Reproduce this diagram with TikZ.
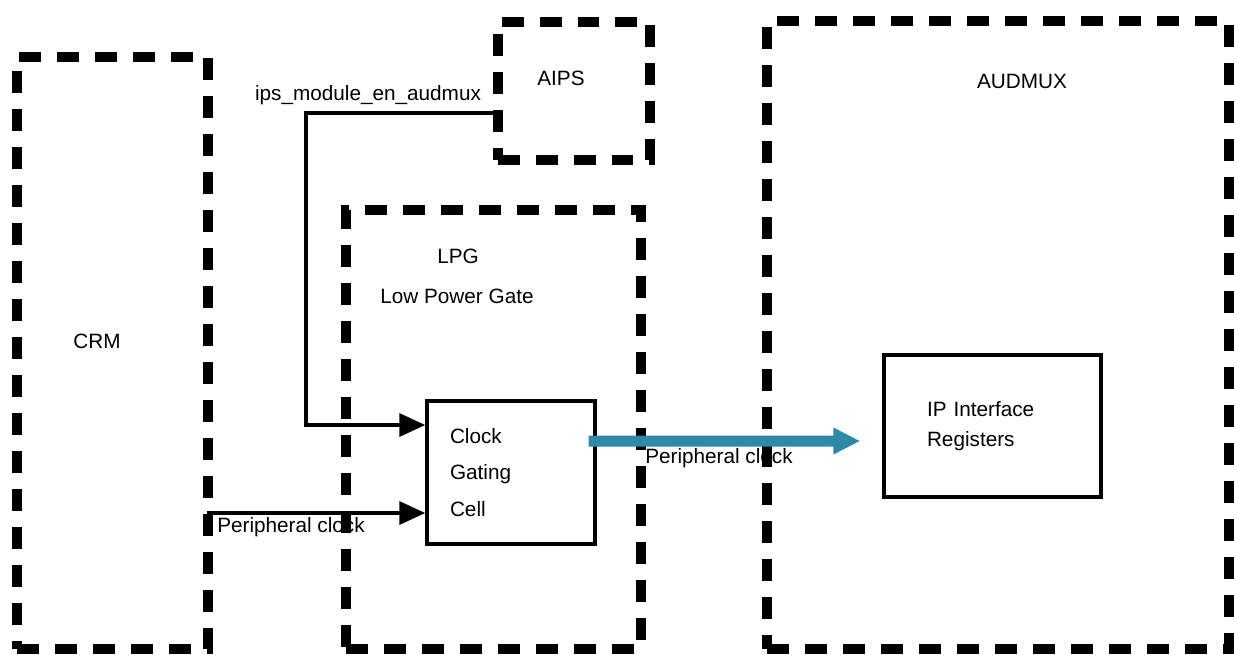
\documentclass[tikz,border=0pt]{standalone}
\usepackage{fontspec}
\setmainfont{Liberation Sans}
\usepackage{xcolor}
\usetikzlibrary{positioning, arrows.meta, calc}
\definecolor{cBUS}{HTML}{2E89A6}
\tikzset{
  domainbox/.style={
    draw=black, line width=0.2cm,
    dash pattern=on 0.44cm off 0.32cm,
    minimum width=#1
  },
  cellbox/.style={
    draw=black, line width=2pt,
    align=left,
    font=\fontsize{11.8}{21}\selectfont
  },
  tag/.style={
    anchor=base,
    inner sep=0pt,
    font=\fontsize{11.8}{14}\selectfont
  },
  sigline/.style={
    -{Triangle[length=0.52cm,width=0.46cm]},
    line width=2pt
  },
  busline/.style={
    -{Triangle[length=0.54cm,width=0.5cm]},
    line width=0.22cm,
    draw=cBUS
  }
}

\begin{document}
\begin{tikzpicture}[x=0.02cm, y=-0.02cm]
  \useasboundingbox (0,0) rectangle (1234,654);

  % dashed domains
  \node[domainbox=3.82cm, minimum height=11.84cm] (crm) at (112.5,353) {};
  \node[domainbox=3.06cm, minimum height=2.76cm] (aips) at (574,91) {};
  \node[domainbox=5.9cm, minimum height=8.78cm] (lpg) at (493.5,429.5) {};
  \node[domainbox=9.24cm, minimum height=12.56cm] (audmux) at (998,335) {};

  % inner blocks
  \node[cellbox, text width=2.44cm, inner xsep=0.46cm, minimum height=2.86cm] (clock) at (511,472.5)
    {Clock\\Gating\\Cell};
  \node[cellbox, font=\fontsize{11.8}{17}\selectfont, text width=2.62cm, inner xsep=0.86cm,
    minimum height=2.84cm] (ip) at (992.5,426) {IP Interface\\Registers};

  % titles
  \node[tag] (crmname) at (97,348) {CRM};
  \node[tag] (aipsname) at (561,85) {AIPS};
  \node[tag] (audmuxname) at (1022,88) {AUDMUX};
  \node[tag] (lpgname) at (458,263) {LPG};
  \node[tag] (lpgfull) at (457,303) {Low Power Gate};

  % signals
  \coordinate (ipsout) at (494,113);
  \coordinate (ipsbend) at (306,425);
  \coordinate (pclkin) at (207,513);
  \draw[sigline] (ipsout) -| (ipsbend) -- (ipsbend -| clock.west);
  \node[tag] (ipsname) at (368,100) {ips\_module\_en\_audmux};
  \draw[sigline] (pclkin) -- (pclkin -| clock.west);
  \node[tag] (pclkname) at (291,532) {Peripheral clock};

  \draw[busline] ([xshift=-0.16cm, yshift=0.63cm]clock.east) -- ([xshift=-0.44cm, yshift=-0.3cm]ip.west);
  \node[tag] (busname) at (719,463) {Peripheral clock};
\end{tikzpicture}
\end{document}
